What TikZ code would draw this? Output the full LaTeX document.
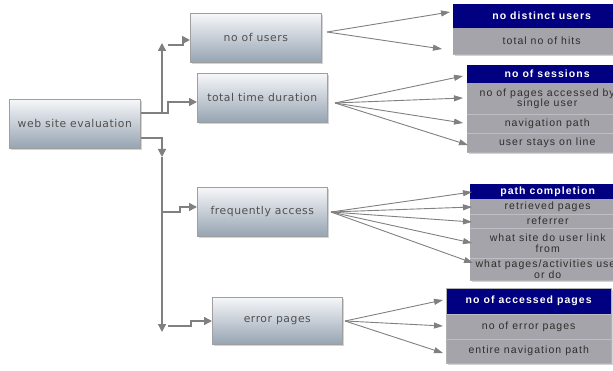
\documentclass[tikz,border=0pt]{standalone}
\usepackage{fontspec}
\setmainfont{DejaVu Sans}
\newfontfamily\leftf[LetterSpace=5]{DejaVu Sans}
\newfontfamily\arialf[LetterSpace=10]{Liberation Sans}
\usetikzlibrary{arrows.meta,shadows}
\definecolor{navyh}{RGB}{0,0,128}
\definecolor{rowg}{RGB}{164,164,170}
\definecolor{rowsep}{RGB}{190,190,196}
\definecolor{linec}{RGB}{128,128,128}
\definecolor{boxtop}{RGB}{246,247,249}
\definecolor{boxbot}{RGB}{150,164,178}
\definecolor{boxtxt}{RGB}{80,80,80}
\tikzset{
  mainbox/.style={draw=gray!75, line width=0.6pt, top color=boxtop, bottom color=boxbot,
    text=boxtxt, font=\leftf\fontsize{10.8}{12}\selectfont, inner sep=0pt, anchor=north west,
    minimum width=130pt, minimum height=48pt,
    drop shadow={shadow xshift=2pt, shadow yshift=-2pt, opacity=0.35, fill=gray}},
  grpbg/.style={fill=rowg, draw=gray!60, line width=0.4pt,
    drop shadow={shadow xshift=1.5pt, shadow yshift=-2pt, opacity=0.35, fill=gray}},
  hdr/.style={fill=navyh, text=white, font=\arialf\bfseries\fontsize{10.5}{10.5}\selectfont,
    inner sep=0pt, anchor=north west, align=center},
  rowc/.style={fill=rowg, text=black!82, font=\arialf\fontsize{10.5}{10.5}\selectfont,
    inner sep=0pt, anchor=north west, align=center},
  trunk/.style={draw=linec, line width=1.6pt},
  trunkarr/.style={trunk, -{Triangle[length=8pt,width=8pt]}},
  fan/.style={draw=linec, line width=0.9pt, -{Triangle[length=9pt,width=6pt]}},
}
\begin{document}
\begin{tikzpicture}[x=1pt,y=-1pt]
\useasboundingbox (0,0) rectangle (613,371);
\clip (0,0) rectangle (613,371);
% left boxes
\node[mainbox, minimum width=131pt, minimum height=49pt] (web) at (9,99) {web site evaluation};
\node[mainbox, minimum width=131pt, minimum height=49pt] (users) at (190,13) {no of users};
\node[mainbox, minimum width=130pt, minimum height=49pt] (time) at (197,73) {total time duration};
\node[mainbox, minimum width=130pt, minimum height=49pt] (freq) at (197,187) {frequently access};
\node[mainbox, minimum width=130pt, minimum height=47pt] (err) at (212,297) {error pages};

% group 1
\fill[grpbg] (453,4) rectangle (630,54);
\node[hdr, minimum width=177pt, minimum height=24pt] (g1h) at (453,4) {no distinct users};
\node[rowc, minimum width=177pt, minimum height=26pt] (g1a) at (453,28) {total no of hits};
% group 2
\fill[grpbg] (467,65) rectangle (627,152);
\node[hdr, minimum width=160pt, minimum height=18pt] (g2h) at (467,65) {no of sessions};
\node[rowc, minimum width=160pt, minimum height=31pt] (g2a) at (467,83) {no of pages accessed by\\single user};
\node[rowc, minimum width=160pt, minimum height=19pt] (g2b) at (467,114) {navigation path};
\node[rowc, minimum width=160pt, minimum height=19pt] (g2c) at (467,133) {user stays on line};
\draw[rowsep, line width=0.6pt] (g2b.north west) -- (g2b.north east) (g2c.north west) -- (g2c.north east);
% group 3
\fill[grpbg] (470,184) rectangle (625,280);
\node[hdr, minimum width=155pt, minimum height=15pt] (g3h) at (470,184) {path completion};
\node[rowc, minimum width=155pt, minimum height=15pt] (g3a) at (470,199) {retrieved pages};
\node[rowc, minimum width=155pt, minimum height=14pt] (g3b) at (470,214) {referrer};
\node[rowc, minimum width=155pt, minimum height=30pt] (g3c) at (470,228) {what site do user link\\from};
\node[rowc, minimum width=155pt, minimum height=22pt] (g3d) at (470,258) {what pages/activities user\\or do};
\draw[rowsep, line width=0.6pt] (g3b.north west) -- (g3b.north east) (g3c.north west) -- (g3c.north east) (g3d.north west) -- (g3d.north east);
% group 4
\fill[grpbg] (446,288) rectangle (611,363);
\node[hdr, minimum width=165pt, minimum height=26pt] (g4h) at (446,288) {no of accessed pages};
\node[rowc, minimum width=165pt, minimum height=25pt] (g4a) at (446,314) {no of error pages};
\node[rowc, minimum width=165pt, minimum height=24pt] (g4b) at (446,339) {entire navigation path};
\draw[rowsep, line width=0.6pt] (g4a.north west) -- (g4a.north east) (g4b.north west) -- (g4b.north east);
\draw[gray!60, line width=0.4pt] (446,288) rectangle (611,363);

% trunk coordinates
\coordinate (wA) at (web.east |- 0,113);
\coordinate (wB) at (web.east |- 0,138);
\coordinate (tUp) at (162,43);
\coordinate (tDn) at (162,157);
\coordinate (tBot) at (162,332);
\draw[trunkarr] (wA) -- (162,113) -- (tUp);
\draw[trunkarr] (wA) -- (168,113) -- (168,102) -- (time.west |- 0,102);
\draw[trunkarr] (168,45) -- (183,45) -- (183,40) -- (users.west |- 0,40);
\draw[trunkarr] (wB) -- (162,138) -- (tDn);
\draw[trunkarr] (tDn) -- (tBot);
\draw[trunkarr] (162,212) -- (180,212) -- (180,207) -- (freq.west |- 0,207);
\draw[trunkarr] (168,326) -- (191,326) -- (191,321) -- (err.west |- 0,321);

% fans
\coordinate (fU) at (327,32);
\coordinate (fT) at (335,103);
\coordinate (fF) at (331,212);
\coordinate (fE) at (345,321);
\draw[fan] (fU) -- ([xshift=-3pt]g1h.west |- 0,12);
\draw[fan] (fU) -- ([xshift=-11pt]g1a.west |- 0,49);
\draw[fan] (fT) -- ([xshift=-4pt]g2h.west |- 0,76);
\draw[fan] (fT) -- ([xshift=-4pt]g2a.west |- 0,98);
\draw[fan] (fT) -- ([xshift=-4pt]g2b.west |- 0,123);
\draw[fan] (fT) -- ([xshift=1pt]g2c.west |- 0,145);
\draw[fan] (fF) -- ([xshift=2pt]g3h.west |- 0,192);
\draw[fan] (fF) -- ([xshift=2pt]g3a.west |- 0,207);
\draw[fan] (fF) -- ([xshift=2pt]g3b.west |- 0,222);
\draw[fan] (fF) -- ([xshift=2pt]g3c.west |- 0,243);
\draw[fan] (fF) -- ([xshift=3pt]g3d.west |- 0,263);
\draw[fan] (fE) -- ([xshift=-3pt]g4h.west |- 0,300);
\draw[fan] (fE) -- ([xshift=-3pt]g4a.west |- 0,326);
\draw[fan] (fE) -- ([xshift=-3pt]g4b.west |- 0,353);
\end{tikzpicture}
\end{document}
